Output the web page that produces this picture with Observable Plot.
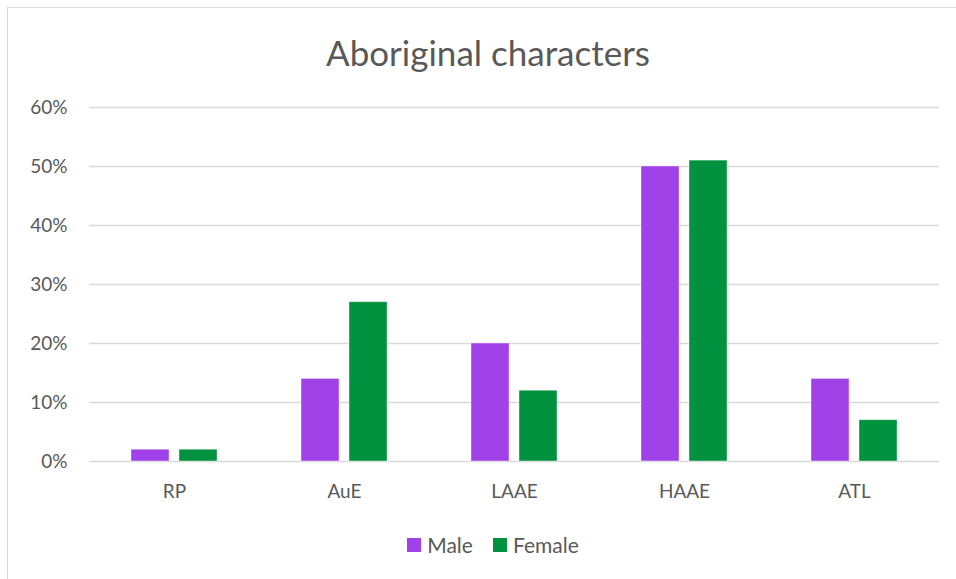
<!DOCTYPE html>
<html>
<head>
<meta charset="utf-8">
<script src="https://cdn.jsdelivr.net/npm/d3@7"></script>
<script src="https://cdn.jsdelivr.net/npm/@observablehq/plot@0.6"></script>
<style>
  html, body { margin: 0; padding: 0; background: #fff; }
  body { width: 956px; height: 579px; overflow: hidden; position: relative; font-family: Lato, "Open Sans", sans-serif; }
  #frame { position: absolute; left: 7px; top: 7px; width: 970px; height: 600px; border: 1px solid #d9d9d9; box-sizing: border-box; }
  #title { position: absolute; left: 0; width: 976px; top: 30px; text-align: center; font-size: 35px; color: #595959; line-height: 44px; }
  #chart { position: absolute; left: 0; top: 0; }
  #legend { position: absolute; top: 532px; left: 0; width: 956px; display: flex; justify-content: center; gap: 20px; font-size: 21px; color: #595959; line-height: 26px; padding-left: 30px; box-sizing: border-box; }
  #legend span.item { display: flex; align-items: center; gap: 6px; }
  #legend span.sw { width: 14px; height: 14px; display: inline-block; }
</style>
</head>
<body>
<div id="frame"></div>
<div id="chart"></div>
<div id="title">Aboriginal characters</div>
<div id="legend"></div>
<script>
// Share of each aboriginal character, by sex
const categories = ["RP", "AuE", "LAAE", "HAAE", "ATL"];
const groups = ["Male", "Female"];
const male = [0.02, 0.14, 0.20, 0.50, 0.14];
const female = [0.02, 0.27, 0.12, 0.51, 0.07];
const yTicks = [0, 0.1, 0.2, 0.3, 0.4, 0.5, 0.6];
const colors = ["#a142e8", "#00923f"];

const rows = categories.flatMap((c, i) => [
  {category: c, group: "Male", value: male[i]},
  {category: c, group: "Female", value: female[i]}
]);

const chart = Plot.plot({
  width: 956,
  height: 520,
  marginLeft: 89,
  marginRight: 17,
  marginTop: 107,
  marginBottom: 59,
  style: {fontFamily: "Lato, 'Open Sans', sans-serif", fontSize: "19px", color: "#595959", background: "transparent"},
  fx: {domain: categories, padding: 0, label: null, tickSize: 0, tickPadding: 23},
  x: {domain: groups, paddingInner: 0.208, paddingOuter: 0.87, axis: null},
  y: {domain: [0, 0.6], ticks: yTicks, tickFormat: d3.format(".0%"), tickSize: 0, tickPadding: 22, label: null},
  color: {domain: groups, range: colors},
  marks: [
    Plot.ruleY(yTicks, {stroke: "#d9d9d9", strokeWidth: 1.3}),
    Plot.barY(rows, {fx: "category", x: "group", y: "value", fill: "group", stroke: "#ffffff", strokeOpacity: 0.5, strokeWidth: 0.8})
  ]
});
chart.querySelectorAll("text").forEach(t => t.setAttribute("fill", "#595959"));
document.getElementById("chart").appendChild(chart);

// Legend
const legend = document.getElementById("legend");
groups.forEach((g, i) => {
  const item = document.createElement("span");
  item.className = "item";
  const sw = document.createElement("span");
  sw.className = "sw";
  sw.style.background = colors[i];
  item.appendChild(sw);
  item.appendChild(document.createTextNode(g));
  legend.appendChild(item);
});
</script>
</body>
</html>
